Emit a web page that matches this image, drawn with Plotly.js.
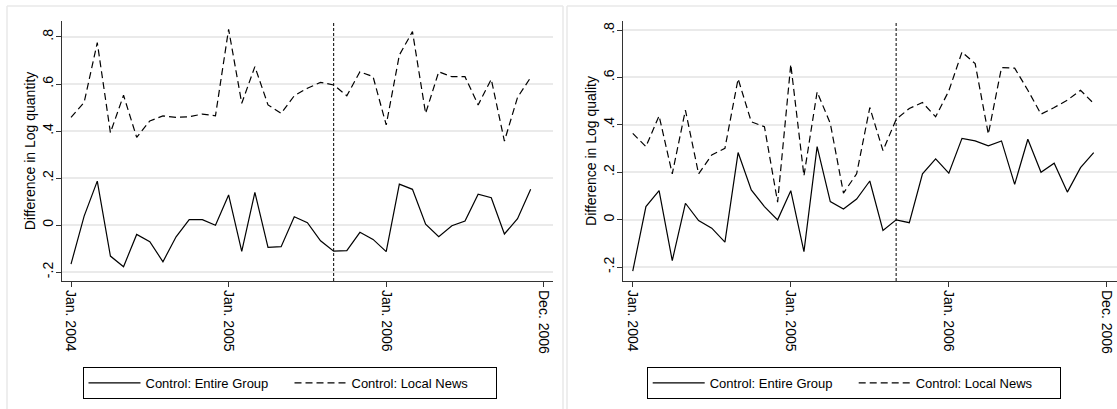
<!DOCTYPE html>
<html>
<head>
<meta charset="utf-8">
<script src="https://cdn.plot.ly/plotly-3.0.1.min.js"></script>
<style>
html,body{margin:0;padding:0;background:#fff;}
#chart{width:1117px;height:409px;}
</style>
</head>
<body>
<div id="chart"></div>
<script>
// ---- data ----
const monthIndex = [0,1,2,3,4,5,6,7,8,9,10,11,12,13,14,15,16,17,18,19,20,21,22,23,24,25,26,27,28,29,30,31,32,33,34,35];
const tickVals = [0, 12, 24, 36];
const tickText = ["Jan. 2004", "Jan. 2005", "Jan. 2006", "Dec. 2006"];
const yTickVals = [-0.2, 0, 0.2, 0.4, 0.6, 0.8];
const yTickText = ["-.2", "0", ".2", ".4", ".6", ".8"];
const seriesNames = ["Control: Entire Group", "Control: Local News"];
const breakMonth = 20;

const quantityEntire = [-0.166,0.038,0.187,-0.132,-0.177,-0.040,-0.071,-0.156,-0.050,0.023,0.023,-0.001,0.128,-0.112,0.139,-0.095,-0.092,0.035,0.010,-0.067,-0.111,-0.109,-0.031,-0.061,-0.113,0.174,0.152,0.004,-0.050,-0.003,0.017,0.131,0.116,-0.038,0.027,0.152];
const quantityLocal = [0.458,0.522,0.776,0.393,0.552,0.373,0.443,0.464,0.458,0.461,0.472,0.465,0.833,0.518,0.674,0.511,0.475,0.550,0.582,0.607,0.596,0.550,0.652,0.631,0.426,0.723,0.823,0.475,0.652,0.631,0.631,0.511,0.620,0.357,0.543,0.628];
const qualityEntire = [-0.217,0.055,0.122,-0.173,0.069,-0.004,-0.036,-0.095,0.283,0.125,0.055,-0.001,0.122,-0.135,0.308,0.076,0.045,0.087,0.163,-0.046,-0.001,-0.013,0.193,0.256,0.196,0.343,0.332,0.311,0.332,0.149,0.339,0.200,0.238,0.116,0.219,0.283];
const qualityLocal = [0.364,0.308,0.438,0.193,0.462,0.193,0.273,0.301,0.594,0.413,0.392,0.074,0.655,0.185,0.539,0.406,0.112,0.193,0.473,0.291,0.423,0.469,0.494,0.434,0.543,0.707,0.658,0.361,0.641,0.639,0.546,0.445,0.473,0.504,0.546,0.490];

const yTitles = ["Difference in Log quantity", "Difference in Log quality"];

// ---- styling ----
const W = 1117, H = 409;
const FONT = "Liberation Sans, Arial, Helvetica, sans-serif";
const solidLine = {color: "#000", width: 1.2, dash: "solid"};
const dashLine = {color: "#000", width: 1.2, dash: "7px,4px"};
const px = v => v / W;
const py = v => 1 - v / H;

const traces = [
  {x: monthIndex, y: quantityEntire, name: seriesNames[0], mode: "lines", line: solidLine, xaxis: "x", yaxis: "y", legend: "legend"},
  {x: monthIndex, y: quantityLocal, name: seriesNames[1], mode: "lines", line: dashLine, xaxis: "x", yaxis: "y", legend: "legend"},
  {x: monthIndex, y: qualityEntire, name: seriesNames[0], mode: "lines", line: solidLine, xaxis: "x2", yaxis: "y2", legend: "legend2"},
  {x: monthIndex, y: qualityLocal, name: seriesNames[1], mode: "lines", line: dashLine, xaxis: "x2", yaxis: "y2", legend: "legend2"}
];

function xAxis(domain, range, anchor) {
  return {
    domain: domain, range: range, anchor: anchor,
    tickmode: "array", tickvals: tickVals, ticktext: tickText,
    tickangle: 90, ticks: "outside", ticklen: 5, tickcolor: "#333", tickwidth: 1,
    showgrid: false, zeroline: false, showline: true, linecolor: "#333", linewidth: 1.2,
    tickfont: {family: FONT, size: 14, color: "#000"}, fixedrange: true
  };
}
function yAxis(domain, range, anchor, title) {
  return {
    domain: domain, range: range, anchor: anchor,
    tickmode: "array", tickvals: yTickVals, ticktext: yTickText,
    tickangle: -90, ticks: "outside", ticklen: 5, tickcolor: "#333", tickwidth: 1,
    ticklabelstandoff: -3,
    showgrid: true, gridcolor: "#eaeaea", gridwidth: 2, zeroline: false,
    showline: true, linecolor: "#333", linewidth: 1.2,
    tickfont: {family: FONT, size: 14, color: "#000"},
    title: {text: title, font: {family: FONT, size: 14, color: "#000"}, standoff: 1},
    fixedrange: true
  };
}

const yDom = [py(281), py(21)];
const legendStyle = (xc) => ({
  orientation: "h", x: px(xc), xanchor: "center", y: py(367), yanchor: "top",
  bordercolor: "#000", borderwidth: 1, bgcolor: "#fff",
  font: {family: FONT, size: 13, color: "#000"},
  itemwidth: 52, entrywidth: 139, entrywidthmode: "pixels", tracegroupgap: 0
});

const borderColor = "#e8e8e8";
const shapes = [
  {type: "line", xref: "paper", yref: "paper", x0: px(7), x1: px(563), y0: py(6), y1: py(6), line: {color: borderColor, width: 1.5}},
  {type: "line", xref: "paper", yref: "paper", x0: px(7), x1: px(7), y0: py(6), y1: 0, line: {color: borderColor, width: 1.5}},
  {type: "line", xref: "paper", yref: "paper", x0: px(563), x1: px(563), y0: py(6), y1: 0, line: {color: borderColor, width: 1.5}},
  {type: "line", xref: "paper", yref: "paper", x0: px(567), x1: 1, y0: py(6), y1: py(6), line: {color: borderColor, width: 1.5}},
  {type: "line", xref: "paper", yref: "paper", x0: px(567), x1: px(567), y0: py(6), y1: 0, line: {color: borderColor, width: 1.5}},
  {type: "line", xref: "x", yref: "y domain", x0: breakMonth, x1: breakMonth, y0: 0, y1: 1, line: {color: "#000", width: 1, dash: "3px,2px"}},
  {type: "line", xref: "x2", yref: "y2 domain", x0: breakMonth, x1: breakMonth, y0: 0, y1: 1, line: {color: "#000", width: 1, dash: "3px,2px"}}
];

const layout = {
  width: W, height: H,
  margin: {l: 0, r: 0, t: 0, b: 0},
  paper_bgcolor: "#fff", plot_bgcolor: "#fff",
  font: {family: FONT, color: "#000"},
  xaxis: xAxis([px(62), px(553)], [-0.686, 36.7], "y"),
  yaxis: yAxis(yDom, [-0.238, 0.868], "x", yTitles[0]),
  xaxis2: xAxis([px(623), 1], [-0.74, 36.77], "y2"),
  yaxis2: yAxis(yDom, [-0.259, 0.838], "x2", yTitles[1]),
  legend: legendStyle(289.5),
  legend2: legendStyle(853.7),
  shapes: shapes,
  showlegend: true
};

Plotly.newPlot("chart", traces, layout, {displayModeBar: false, staticPlot: true});
</script>
</body>
</html>
